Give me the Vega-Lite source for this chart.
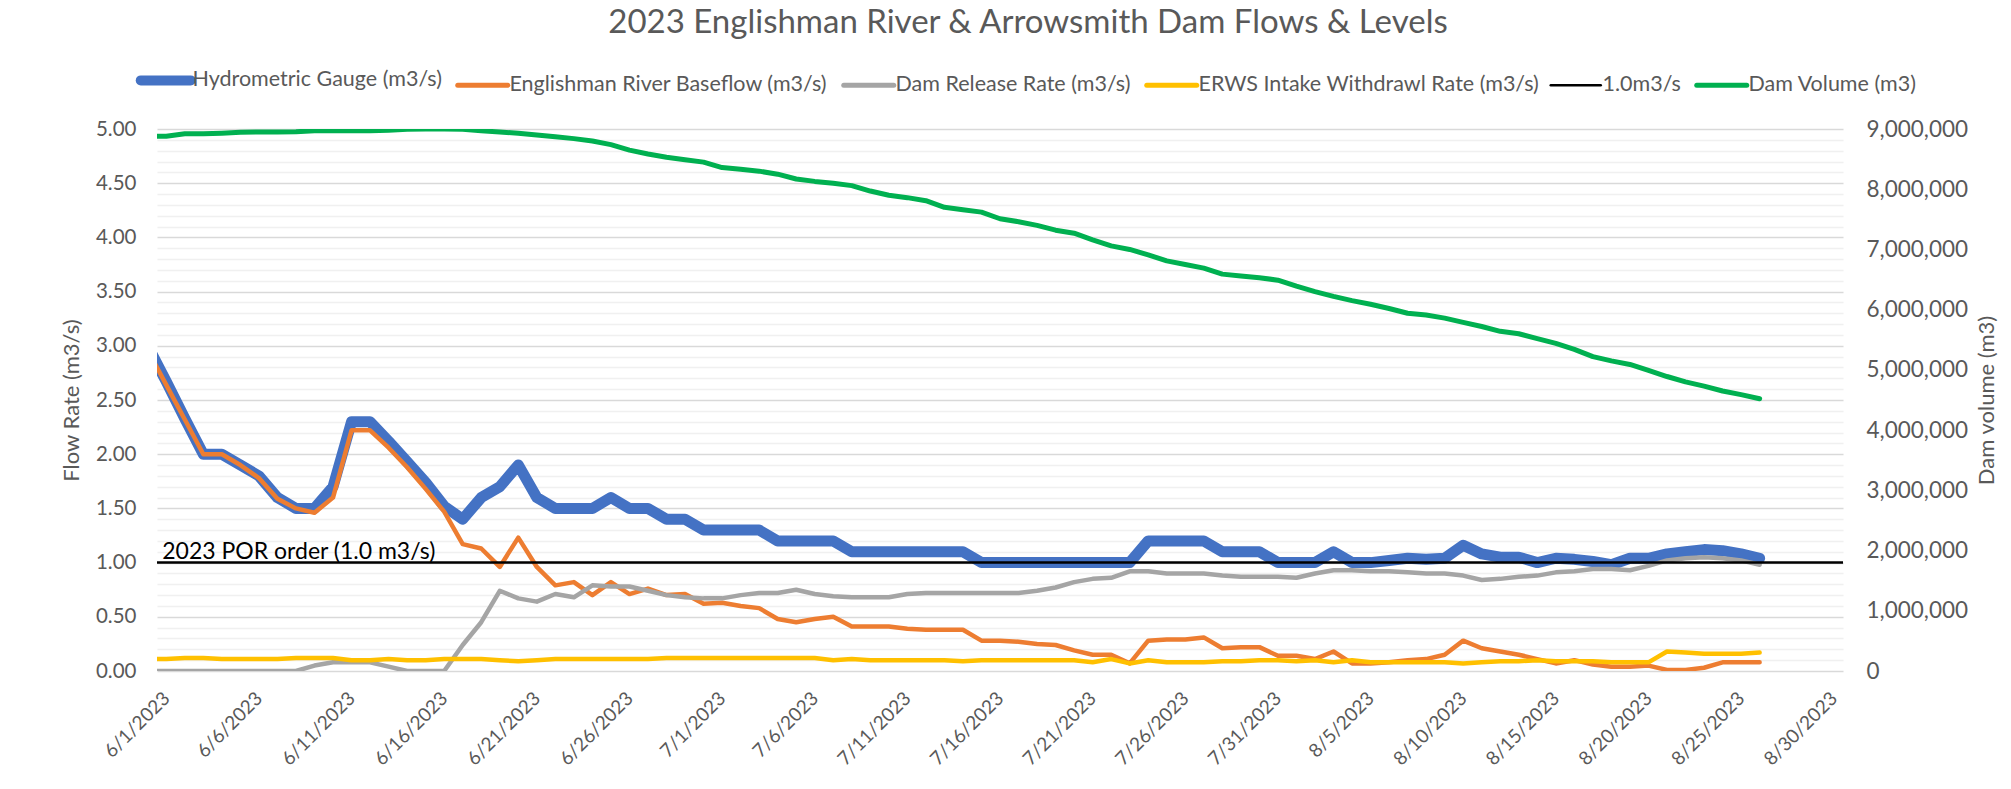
{
  "$schema": "https://vega.github.io/schema/vega-lite/v6.json",
  "width": 1686,
  "height": 542,
  "autosize": {"type": "none"},
  "padding": {"left": 157, "top": 129, "right": 168, "bottom": 118},
  "background": "white",
  "title": {"text": "2023 Englishman River & Arrowsmith Dam Flows & Levels", "font": "Lato", "fontSize": 33, "fontWeight": "normal", "color": "#595959", "anchor": "middle", "frame": "group", "dx": 28, "offset": 30},
  "config": {"view": {"stroke": null}},
  "datasets": {
    "flows": [
      {"d": "2023-05-31T00:00", "gauge": 3.00, "base": 2.96, "release": 0, "intake": 0.11, "vol": 8880000},
      {"d": "2023-06-01T00:00", "gauge": 2.67, "base": 2.64, "release": 0, "intake": 0.11, "vol": 8880000},
      {"d": "2023-06-02T00:00", "gauge": 2.33, "base": 2.32, "release": 0, "intake": 0.12, "vol": 8920000},
      {"d": "2023-06-03T00:00", "gauge": 2.00, "base": 2.00, "release": 0, "intake": 0.12, "vol": 8920000},
      {"d": "2023-06-04T00:00", "gauge": 2.00, "base": 2.00, "release": 0, "intake": 0.11, "vol": 8930000},
      {"d": "2023-06-05T00:00", "gauge": 1.90, "base": 1.90, "release": 0, "intake": 0.11, "vol": 8945000},
      {"d": "2023-06-06T00:00", "gauge": 1.80, "base": 1.78, "release": 0, "intake": 0.11, "vol": 8950000},
      {"d": "2023-06-07T00:00", "gauge": 1.60, "base": 1.59, "release": 0, "intake": 0.11, "vol": 8950000},
      {"d": "2023-06-08T00:00", "gauge": 1.50, "base": 1.50, "release": 0, "intake": 0.12, "vol": 8955000},
      {"d": "2023-06-09T00:00", "gauge": 1.50, "base": 1.46, "release": 0.05, "intake": 0.12, "vol": 8970000},
      {"d": "2023-06-10T00:00", "gauge": 1.70, "base": 1.60, "release": 0.08, "intake": 0.12, "vol": 8970000},
      {"d": "2023-06-11T00:00", "gauge": 2.30, "base": 2.22, "release": 0.08, "intake": 0.10, "vol": 8970000},
      {"d": "2023-06-12T00:00", "gauge": 2.30, "base": 2.22, "release": 0.08, "intake": 0.10, "vol": 8970000},
      {"d": "2023-06-13T00:00", "gauge": 2.12, "base": 2.06, "release": 0.04, "intake": 0.11, "vol": 8980000},
      {"d": "2023-06-14T00:00", "gauge": 1.93, "base": 1.88, "release": 0, "intake": 0.10, "vol": 8995000},
      {"d": "2023-06-15T00:00", "gauge": 1.74, "base": 1.68, "release": 0, "intake": 0.10, "vol": 9000000},
      {"d": "2023-06-16T00:00", "gauge": 1.52, "base": 1.47, "release": 0, "intake": 0.11, "vol": 9000000},
      {"d": "2023-06-17T00:00", "gauge": 1.40, "base": 1.17, "release": 0.24, "intake": 0.11, "vol": 8995000},
      {"d": "2023-06-18T00:00", "gauge": 1.60, "base": 1.13, "release": 0.45, "intake": 0.11, "vol": 8970000},
      {"d": "2023-06-19T00:00", "gauge": 1.70, "base": 0.96, "release": 0.74, "intake": 0.10, "vol": 8950000},
      {"d": "2023-06-20T00:00", "gauge": 1.90, "base": 1.23, "release": 0.67, "intake": 0.09, "vol": 8930000},
      {"d": "2023-06-21T00:00", "gauge": 1.60, "base": 0.96, "release": 0.64, "intake": 0.10, "vol": 8900000},
      {"d": "2023-06-22T00:00", "gauge": 1.50, "base": 0.79, "release": 0.71, "intake": 0.11, "vol": 8870000},
      {"d": "2023-06-23T00:00", "gauge": 1.50, "base": 0.82, "release": 0.68, "intake": 0.11, "vol": 8840000},
      {"d": "2023-06-24T00:00", "gauge": 1.50, "base": 0.70, "release": 0.79, "intake": 0.11, "vol": 8800000},
      {"d": "2023-06-25T00:00", "gauge": 1.60, "base": 0.82, "release": 0.78, "intake": 0.11, "vol": 8740000},
      {"d": "2023-06-26T00:00", "gauge": 1.50, "base": 0.71, "release": 0.78, "intake": 0.11, "vol": 8650000},
      {"d": "2023-06-27T00:00", "gauge": 1.50, "base": 0.76, "release": 0.74, "intake": 0.11, "vol": 8585000},
      {"d": "2023-06-28T00:00", "gauge": 1.40, "base": 0.70, "release": 0.70, "intake": 0.12, "vol": 8530000},
      {"d": "2023-06-29T00:00", "gauge": 1.40, "base": 0.71, "release": 0.68, "intake": 0.12, "vol": 8490000},
      {"d": "2023-06-30T00:00", "gauge": 1.30, "base": 0.62, "release": 0.67, "intake": 0.12, "vol": 8450000},
      {"d": "2023-07-01T00:00", "gauge": 1.30, "base": 0.63, "release": 0.67, "intake": 0.12, "vol": 8360000},
      {"d": "2023-07-02T00:00", "gauge": 1.30, "base": 0.60, "release": 0.70, "intake": 0.12, "vol": 8330000},
      {"d": "2023-07-03T00:00", "gauge": 1.30, "base": 0.58, "release": 0.72, "intake": 0.12, "vol": 8300000},
      {"d": "2023-07-04T00:00", "gauge": 1.20, "base": 0.48, "release": 0.72, "intake": 0.12, "vol": 8250000},
      {"d": "2023-07-05T00:00", "gauge": 1.20, "base": 0.45, "release": 0.75, "intake": 0.12, "vol": 8170000},
      {"d": "2023-07-06T00:00", "gauge": 1.20, "base": 0.48, "release": 0.71, "intake": 0.12, "vol": 8130000},
      {"d": "2023-07-07T00:00", "gauge": 1.20, "base": 0.50, "release": 0.69, "intake": 0.10, "vol": 8100000},
      {"d": "2023-07-08T00:00", "gauge": 1.10, "base": 0.41, "release": 0.68, "intake": 0.11, "vol": 8060000},
      {"d": "2023-07-09T00:00", "gauge": 1.10, "base": 0.41, "release": 0.68, "intake": 0.10, "vol": 7970000},
      {"d": "2023-07-10T00:00", "gauge": 1.10, "base": 0.41, "release": 0.68, "intake": 0.10, "vol": 7900000},
      {"d": "2023-07-11T00:00", "gauge": 1.10, "base": 0.39, "release": 0.71, "intake": 0.10, "vol": 7860000},
      {"d": "2023-07-12T00:00", "gauge": 1.10, "base": 0.38, "release": 0.72, "intake": 0.10, "vol": 7810000},
      {"d": "2023-07-13T00:00", "gauge": 1.10, "base": 0.38, "release": 0.72, "intake": 0.10, "vol": 7700000},
      {"d": "2023-07-14T00:00", "gauge": 1.10, "base": 0.38, "release": 0.72, "intake": 0.09, "vol": 7660000},
      {"d": "2023-07-15T00:00", "gauge": 1.00, "base": 0.28, "release": 0.72, "intake": 0.10, "vol": 7620000},
      {"d": "2023-07-16T00:00", "gauge": 1.00, "base": 0.28, "release": 0.72, "intake": 0.10, "vol": 7510000},
      {"d": "2023-07-17T00:00", "gauge": 1.00, "base": 0.27, "release": 0.72, "intake": 0.10, "vol": 7460000},
      {"d": "2023-07-18T00:00", "gauge": 1.00, "base": 0.25, "release": 0.74, "intake": 0.10, "vol": 7400000},
      {"d": "2023-07-19T00:00", "gauge": 1.00, "base": 0.24, "release": 0.77, "intake": 0.10, "vol": 7320000},
      {"d": "2023-07-20T00:00", "gauge": 1.00, "base": 0.19, "release": 0.82, "intake": 0.10, "vol": 7270000},
      {"d": "2023-07-21T00:00", "gauge": 1.00, "base": 0.15, "release": 0.85, "intake": 0.08, "vol": 7160000},
      {"d": "2023-07-22T00:00", "gauge": 1.00, "base": 0.15, "release": 0.86, "intake": 0.11, "vol": 7060000},
      {"d": "2023-07-23T00:00", "gauge": 1.00, "base": 0.07, "release": 0.92, "intake": 0.07, "vol": 7000000},
      {"d": "2023-07-24T00:00", "gauge": 1.20, "base": 0.28, "release": 0.92, "intake": 0.10, "vol": 6910000},
      {"d": "2023-07-25T00:00", "gauge": 1.20, "base": 0.29, "release": 0.90, "intake": 0.08, "vol": 6810000},
      {"d": "2023-07-26T00:00", "gauge": 1.20, "base": 0.29, "release": 0.90, "intake": 0.08, "vol": 6750000},
      {"d": "2023-07-27T00:00", "gauge": 1.20, "base": 0.31, "release": 0.90, "intake": 0.08, "vol": 6690000},
      {"d": "2023-07-28T00:00", "gauge": 1.10, "base": 0.21, "release": 0.88, "intake": 0.09, "vol": 6590000},
      {"d": "2023-07-29T00:00", "gauge": 1.10, "base": 0.22, "release": 0.87, "intake": 0.09, "vol": 6560000},
      {"d": "2023-07-30T00:00", "gauge": 1.10, "base": 0.22, "release": 0.87, "intake": 0.10, "vol": 6530000},
      {"d": "2023-07-31T00:00", "gauge": 1.00, "base": 0.14, "release": 0.87, "intake": 0.10, "vol": 6490000},
      {"d": "2023-08-01T00:00", "gauge": 1.00, "base": 0.14, "release": 0.86, "intake": 0.09, "vol": 6390000},
      {"d": "2023-08-02T00:00", "gauge": 1.00, "base": 0.11, "release": 0.90, "intake": 0.10, "vol": 6300000},
      {"d": "2023-08-03T00:00", "gauge": 1.10, "base": 0.18, "release": 0.93, "intake": 0.08, "vol": 6220000},
      {"d": "2023-08-04T00:00", "gauge": 1.00, "base": 0.07, "release": 0.93, "intake": 0.10, "vol": 6150000},
      {"d": "2023-08-05T00:00", "gauge": 1.00, "base": 0.07, "release": 0.92, "intake": 0.08, "vol": 6090000},
      {"d": "2023-08-06T00:00", "gauge": 1.02, "base": 0.08, "release": 0.92, "intake": 0.08, "vol": 6020000},
      {"d": "2023-08-07T00:00", "gauge": 1.04, "base": 0.10, "release": 0.91, "intake": 0.08, "vol": 5940000},
      {"d": "2023-08-08T00:00", "gauge": 1.03, "base": 0.11, "release": 0.90, "intake": 0.08, "vol": 5910000},
      {"d": "2023-08-09T00:00", "gauge": 1.04, "base": 0.15, "release": 0.90, "intake": 0.08, "vol": 5860000},
      {"d": "2023-08-10T00:00", "gauge": 1.16, "base": 0.28, "release": 0.88, "intake": 0.07, "vol": 5790000},
      {"d": "2023-08-11T00:00", "gauge": 1.08, "base": 0.21, "release": 0.84, "intake": 0.08, "vol": 5720000},
      {"d": "2023-08-12T00:00", "gauge": 1.05, "base": 0.18, "release": 0.85, "intake": 0.09, "vol": 5640000},
      {"d": "2023-08-13T00:00", "gauge": 1.05, "base": 0.15, "release": 0.87, "intake": 0.09, "vol": 5600000},
      {"d": "2023-08-14T00:00", "gauge": 1.00, "base": 0.11, "release": 0.88, "intake": 0.10, "vol": 5520000},
      {"d": "2023-08-15T00:00", "gauge": 1.04, "base": 0.07, "release": 0.91, "intake": 0.09, "vol": 5440000},
      {"d": "2023-08-16T00:00", "gauge": 1.03, "base": 0.10, "release": 0.92, "intake": 0.09, "vol": 5340000},
      {"d": "2023-08-17T00:00", "gauge": 1.01, "base": 0.06, "release": 0.94, "intake": 0.09, "vol": 5220000},
      {"d": "2023-08-18T00:00", "gauge": 0.98, "base": 0.04, "release": 0.94, "intake": 0.08, "vol": 5150000},
      {"d": "2023-08-19T00:00", "gauge": 1.04, "base": 0.04, "release": 0.93, "intake": 0.08, "vol": 5090000},
      {"d": "2023-08-20T00:00", "gauge": 1.04, "base": 0.05, "release": 0.97, "intake": 0.08, "vol": 4990000},
      {"d": "2023-08-21T00:00", "gauge": 1.08, "base": 0.01, "release": 1.02, "intake": 0.18, "vol": 4890000},
      {"d": "2023-08-22T00:00", "gauge": 1.10, "base": 0.01, "release": 1.04, "intake": 0.17, "vol": 4800000},
      {"d": "2023-08-23T00:00", "gauge": 1.12, "base": 0.03, "release": 1.05, "intake": 0.16, "vol": 4730000},
      {"d": "2023-08-24T00:00", "gauge": 1.11, "base": 0.08, "release": 1.04, "intake": 0.16, "vol": 4650000},
      {"d": "2023-08-25T00:00", "gauge": 1.08, "base": 0.08, "release": 1.02, "intake": 0.16, "vol": 4590000},
      {"d": "2023-08-26T00:00", "gauge": 1.04, "base": 0.08, "release": 0.98, "intake": 0.17, "vol": 4520000}
    ]
  },
  "data": {"name": "flows"},
  "layer": [
    {
      "layer": [
        {
          "mark": {"type": "line", "strokeWidth": 11, "strokeCap": "round", "strokeJoin": "round", "clip": true},
          "encoding": {
            "x": {"field": "d", "type": "temporal",
              "scale": {"domain": [{"year": 2023, "month": 5, "date": 31, "hours": 12}, {"year": 2023, "month": 8, "date": 30, "hours": 12}], "nice": false},
              "axis": {"title": null, "values": [{"year": 2023, "month": 6, "date": 1}, {"year": 2023, "month": 6, "date": 6}, {"year": 2023, "month": 6, "date": 11}, {"year": 2023, "month": 6, "date": 16}, {"year": 2023, "month": 6, "date": 21}, {"year": 2023, "month": 6, "date": 26}, {"year": 2023, "month": 7, "date": 1}, {"year": 2023, "month": 7, "date": 6}, {"year": 2023, "month": 7, "date": 11}, {"year": 2023, "month": 7, "date": 16}, {"year": 2023, "month": 7, "date": 21}, {"year": 2023, "month": 7, "date": 26}, {"year": 2023, "month": 7, "date": 31}, {"year": 2023, "month": 8, "date": 5}, {"year": 2023, "month": 8, "date": 10}, {"year": 2023, "month": 8, "date": 15}, {"year": 2023, "month": 8, "date": 20}, {"year": 2023, "month": 8, "date": 25}, {"year": 2023, "month": 8, "date": 30}],
                "tickCount": 100, "format": "%-m/%-d/%Y", "labelAngle": -45, "labelAlign": "right", "labelBaseline": "middle", "labelPadding": 24, "labelOverlap": false, "labelFont": "Lato", "labelFontSize": 19, "labelColor": "#595959", "ticks": false, "domain": false, "grid": false}},
            "y": {"field": "gauge", "type": "quantitative", "scale": {"domain": [0, 5], "nice": false},
              "axis": {"title": "Flow Rate (m3/s)", "values": [0, 0.1, 0.2, 0.3, 0.4, 0.5, 0.6, 0.7, 0.8, 0.9, 1, 1.1, 1.2, 1.3, 1.4, 1.5, 1.6, 1.7, 1.8, 1.9, 2, 2.1, 2.2, 2.3, 2.4, 2.5, 2.6, 2.7, 2.8, 2.9, 3, 3.1, 3.2, 3.3, 3.4, 3.5, 3.6, 3.7, 3.8, 3.9, 4, 4.1, 4.2, 4.3, 4.4, 4.5, 4.6, 4.7, 4.8, 4.9, 5],
                "tickCount": 100,
                "labelExpr": "abs(datum.value * 2 - round(datum.value * 2)) < 0.000001 ? format(datum.value, '.2f') : ''",
                "labelOverlap": false, "grid": true,
                "gridColor": {"condition": {"test": "abs(datum.value * 2 - round(datum.value * 2)) < 0.000001", "value": "#d9d9d9"}, "value": "#f0f0f0"},
                "gridWidth": 1.5, "ticks": false, "domain": false, "labelPadding": 21, "labelFont": "Lato", "labelFontSize": 20.5, "labelColor": "#595959",
                "titleFont": "Lato", "titleFontSize": 22, "titleFontWeight": "normal", "titleColor": "#595959", "titlePadding": 12}},
            "color": {"datum": "Hydrometric Gauge (m3/s)", "type": "nominal",
              "scale": {"domain": ["Hydrometric Gauge (m3/s)", "Englishman River Baseflow (m3/s)", "Dam Release Rate (m3/s)", "ERWS Intake Withdrawl Rate (m3/s)", "1.0m3/s", "Dam Volume (m3)"], "range": ["#4472C4", "#ED7D31", "#A5A5A5", "#FFC000", "#000000", "#00B050"]},
              "legend": {"title": null, "orient": "none", "legendX": -2, "legendY": -59.5, "direction": "horizontal", "columns": 6, "symbolType": "stroke", "symbolSize": 2500, "symbolStrokeWidth": 5, "symbolOffset": 0, "labelFont": "Lato", "labelFontSize": 21.5, "labelColor": "#595959", "labelLimit": 600, "labelOffset": 16, "columnPadding": 5, "padding": 0,
                "encode": {"symbols": {"update": {"strokeWidth": {"signal": "datum.value === 'Hydrometric Gauge (m3/s)' ? 10 : (datum.value === '1.0m3/s' ? 2.5 : 5)"}, "strokeCap": {"value": "round"}}}}}}
          }
        },
        {
          "mark": {"type": "line", "strokeWidth": 4.5, "strokeCap": "round", "strokeJoin": "round", "clip": true},
          "encoding": {
            "x": {"field": "d", "type": "temporal"},
            "y": {"field": "base", "type": "quantitative"},
            "color": {"datum": "Englishman River Baseflow (m3/s)", "type": "nominal"}
          }
        },
        {
          "mark": {"type": "line", "strokeWidth": 4.5, "strokeCap": "round", "strokeJoin": "round", "clip": true},
          "encoding": {
            "x": {"field": "d", "type": "temporal"},
            "y": {"field": "release", "type": "quantitative"},
            "color": {"datum": "Dam Release Rate (m3/s)", "type": "nominal"}
          }
        },
        {
          "mark": {"type": "line", "strokeWidth": 4.5, "strokeCap": "round", "strokeJoin": "round", "clip": true},
          "encoding": {
            "x": {"field": "d", "type": "temporal"},
            "y": {"field": "intake", "type": "quantitative"},
            "color": {"datum": "ERWS Intake Withdrawl Rate (m3/s)", "type": "nominal"}
          }
        },
        {
          "data": {"values": [{}]},
          "mark": {"type": "rule", "strokeWidth": 2.5},
          "encoding": {
            "y": {"datum": 1, "type": "quantitative"},
            "color": {"datum": "1.0m3/s", "type": "nominal"}
          }
        },
        {
          "data": {"values": [{}]},
          "mark": {"type": "text", "align": "left", "baseline": "alphabetic", "dx": -4, "dy": -4, "font": "Lato", "fontSize": 23, "color": "#000000"},
          "encoding": {
            "x": {"datum": {"year": 2023, "month": 6, "date": 1}, "type": "temporal"},
            "y": {"datum": 1, "type": "quantitative"},
            "text": {"value": "2023 POR order (1.0 m3/s)"}
          }
        }
      ]
    },
    {
      "mark": {"type": "line", "strokeWidth": 5, "strokeCap": "round", "strokeJoin": "round", "clip": true},
      "encoding": {
        "x": {"field": "d", "type": "temporal"},
        "y": {"field": "vol", "type": "quantitative", "scale": {"domain": [0, 9000000], "nice": false},
          "axis": {"title": "Dam volume (m3)", "orient": "right", "values": [0, 1000000, 2000000, 3000000, 4000000, 5000000, 6000000, 7000000, 8000000, 9000000], "tickCount": 100, "format": ",d", "grid": false, "ticks": false, "domain": false, "labelPadding": 23, "labelFont": "Lato", "labelFontSize": 22.5, "labelColor": "#595959", "titleFont": "Lato", "titleFontSize": 22, "titleFontWeight": "normal", "titleColor": "#595959", "titleAngle": 270, "titlePadding": 31}},
        "color": {"datum": "Dam Volume (m3)", "type": "nominal"}
      }
    }
  ],
  "resolve": {"scale": {"y": "independent"}}
}
